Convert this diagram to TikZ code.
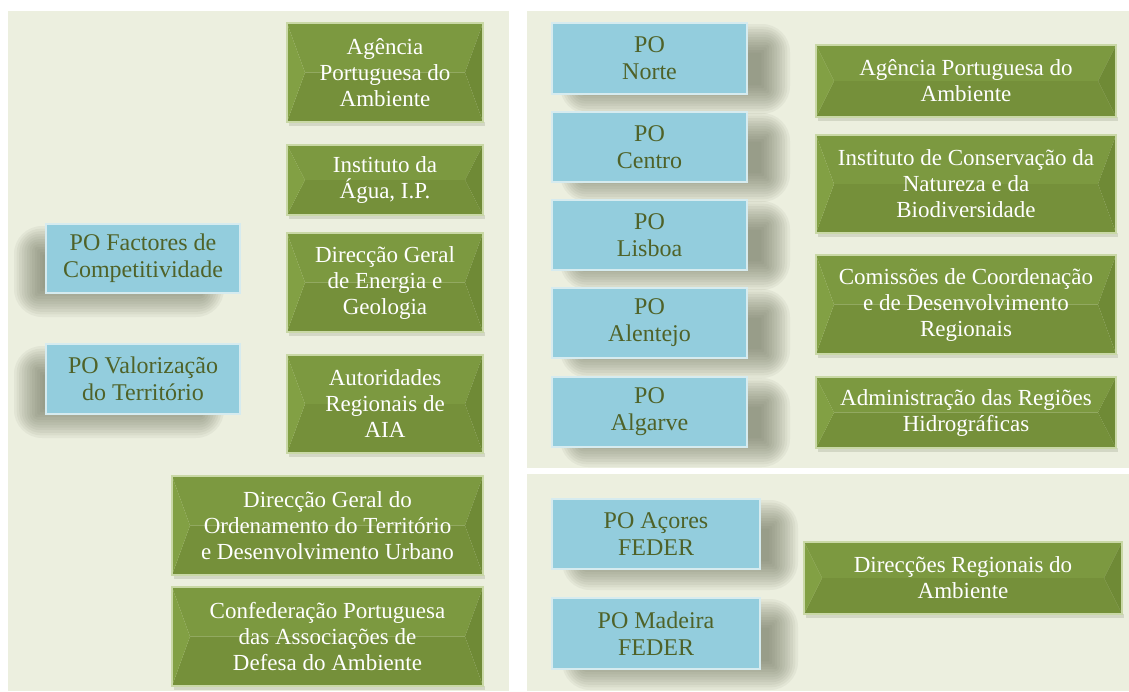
\documentclass[tikz,border=0pt]{standalone}
\usepackage{fontspec}
\setmainfont{Liberation Serif}
\definecolor{panel}{HTML}{ECEFDF}
\definecolor{bluef}{HTML}{93CDDD}
\definecolor{blueedge}{HTML}{D6EBEF}
\definecolor{bluetext}{HTML}{4F6228}
\definecolor{gbase}{HTML}{77933C}
\definecolor{gtop}{HTML}{7C9940}
\definecolor{gbot}{HTML}{75903A}
\definecolor{gleft}{HTML}{82A044}
\definecolor{gright}{HTML}{6F8A36}
\definecolor{gedge}{HTML}{C9D8A6}
\definecolor{shadowc}{HTML}{646A52}
\tikzset{
  btext/.style={text=bluetext, align=center, font=\fontsize{12}{13.5}\selectfont, inner sep=0pt},
  gtext/.style={text=white, align=center, font=\fontsize{11.5}{13}\selectfont, inner sep=0pt},
}
\newcommand\softshade[4]{%
  \foreach \k in {0,...,11}{%
    \fill[shadowc, opacity=0.07, rounded corners={max(0.5,(14-1.6*\k))*1pt}] ({#1-14+2.6*\k},{#2-14+2.6*\k}) rectangle ({#3+14-2.6*\k},{#4+14-2.6*\k});
  }%
}
\newcommand\bluebox[6]{%
  \fill[bluef] (#2,#3) rectangle (#4,#5);
  \draw[blueedge, line width=0.6pt] (#2,#3) rectangle (#4,#5);
  \node[btext] (#1) at ({(#2+#4)/2},{(#3+#5)/2}) {#6};
}
\newcommand\greenbox[6]{%
  \fill[shadowc, opacity=0.18] ({#2+2},{#5}) rectangle ({#4+2},{#5+4});
  \fill[gtop] (#2,#3) -- (#4,#3) -- ({#4-18},{(#3+#5)/2}) -- ({#2+18},{(#3+#5)/2}) -- cycle;
  \fill[gbot] (#2,#5) -- (#4,#5) -- ({#4-18},{(#3+#5)/2}) -- ({#2+18},{(#3+#5)/2}) -- cycle;
  \fill[gleft] (#2,#3) -- ({#2+18},{(#3+#5)/2}) -- (#2,#5) -- cycle;
  \fill[gright] (#4,#3) -- ({#4-18},{(#3+#5)/2}) -- (#4,#5) -- cycle;
  \draw[gedge, line width=0.6pt] (#2,#3) rectangle (#4,#5);
  \node[gtext] (#1) at ({(#2+#4)/2},{(#3+#5)/2}) {#6};
}
\begin{document}
\begin{tikzpicture}[x=0.5pt,y=-0.5pt]
\useasboundingbox (0,0) rectangle (1129,691);
\fill[white] (0,0) rectangle (1129,691);
% panels
\fill[panel] (8,11) rectangle (509,691);
\fill[panel] (527,11) rectangle (1129,468);
\fill[panel] (527,474) rectangle (1129,691);

% ---- left panel ----
\softshade{28}{240}{210}{303}
\softshade{28}{360}{210}{424}
\bluebox{pofc}{46}{224}{240}{293}{PO Factores de\\Competitividade}
\bluebox{povt}{46}{344}{240}{414}{PO Valorização\\do Território}

\greenbox{apa1}{287}{23}{483}{122}{Agência\\Portuguesa do\\Ambiente}
\greenbox{inag}{287}{145}{483}{215}{Instituto da\\Água, I.P.}
\greenbox{dgeg}{287}{233}{483}{332}{Direcção Geral\\de Energia e\\Geologia}
\greenbox{aia}{287}{355}{483}{453}{Autoridades\\Regionais de\\AIA}
\greenbox{dgot}{172}{476}{483}{575}{Direcção Geral do\\Ordenamento do Território\\e Desenvolvimento Urbano}
\greenbox{cpada}{172}{587}{483}{686}{Confederação Portuguesa\\das Associações de\\Defesa do Ambiente}

% ---- right top panel ----
\softshade{574}{38}{776}{100}
\softshade{574}{127}{776}{188}
\softshade{574}{215}{776}{276}
\softshade{574}{303}{776}{364}
\softshade{574}{392}{776}{453}
\bluebox{pon}{552}{23}{747}{94}{PO\\Norte}
\bluebox{poc}{552}{112}{747}{182}{PO\\Centro}
\bluebox{pol}{552}{200}{747}{270}{PO\\Lisboa}
\bluebox{poal}{552}{288}{747}{358}{PO\\Alentejo}
\bluebox{poag}{552}{377}{747}{447}{PO\\Algarve}

\greenbox{apa2}{816}{45}{1116}{117}{Agência Portuguesa do\\Ambiente}
\greenbox{icnb}{816}{135}{1116}{233}{Instituto de Conservação da\\Natureza e da\\Biodiversidade}
\greenbox{ccdr}{816}{255}{1116}{354}{Comissões de Coordenação\\e de Desenvolvimento\\Regionais}
\greenbox{arh}{816}{377}{1116}{448}{Administração das Regiões\\Hidrográficas}

% ---- right bottom panel ----
\softshade{576}{514}{784}{576}
\softshade{576}{613}{784}{676}
\bluebox{poaz}{552}{499}{760}{569}{PO Açores\\FEDER}
\bluebox{pomd}{552}{598}{760}{669}{PO Madeira\\FEDER}
\greenbox{dra}{804}{542}{1122}{614}{Direcções Regionais do\\Ambiente}
\end{tikzpicture}
\end{document}
